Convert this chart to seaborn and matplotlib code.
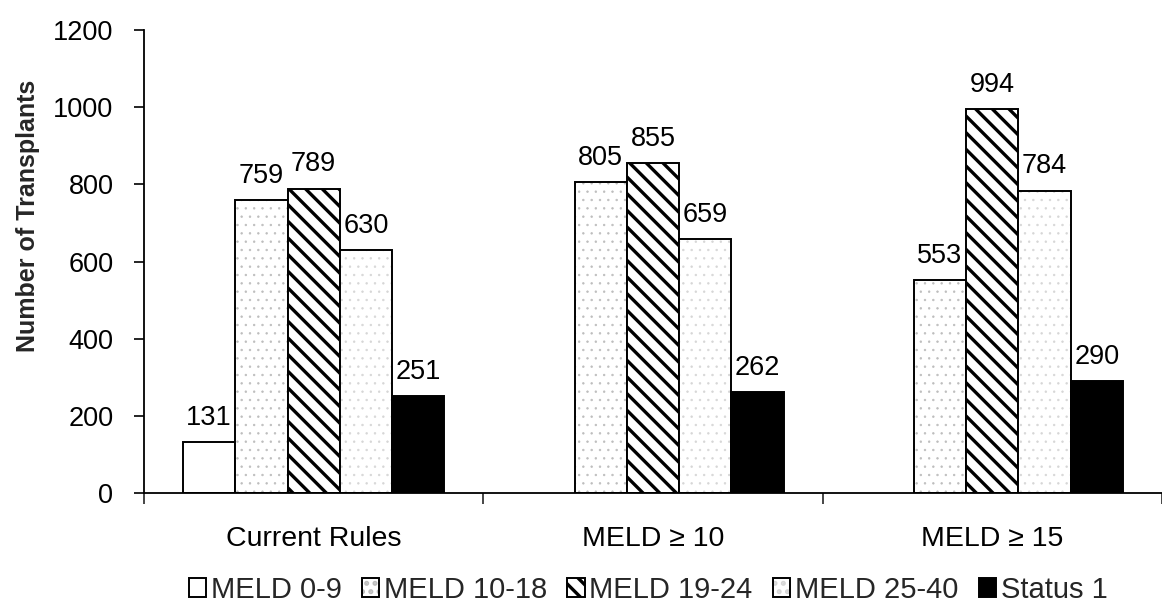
import numpy as np
import pandas as pd
import matplotlib
matplotlib.use("Agg")
import matplotlib.pyplot as plt
import seaborn as sns

# Simulated allocation rules and the transplant counts per MELD category
rules = ["Current Rules", "MELD \u2265 10", "MELD \u2265 15"]
meld_groups = ["MELD 0-9", "MELD 10-18", "MELD 19-24", "MELD 25-40", "Status 1"]
meld_0_9 = [131, None, None]
meld_10_18 = [759, 805, 553]
meld_19_24 = [789, 855, 994]
meld_25_40 = [630, 659, 784]
status_1 = [251, 262, 290]

series = [meld_0_9, meld_10_18, meld_19_24, meld_25_40, status_1]
rows = []
for grp, vals in zip(meld_groups, series):
    for rule, v in zip(rules, vals):
        if v is not None:
            rows.append({"rule": rule, "group": grp, "count": v})
df = pd.DataFrame(rows)

sns.set_theme(style="white")
plt.rcParams["font.family"] = ["Liberation Sans", "DejaVu Sans"]
plt.rcParams["hatch.linewidth"] = 2.4

fig = plt.figure(figsize=(11.62, 6.15), dpi=100)
ax = fig.add_axes([144 / 1162, 1 - 493 / 615, 1018 / 1162, 463 / 615])

palette = {g: "white" for g in meld_groups}
palette["Status 1"] = "black"
sns.barplot(data=df, x="rule", y="count", hue="group", order=rules,
            hue_order=meld_groups, palette=palette, width=0.77,
            edgecolor="black", linewidth=1.4, saturation=1,
            legend=False, ax=ax)

# Fill patterns per MELD category
styles = {
    "MELD 0-9": dict(hatch=None, hcolor=None),
    "MELD 10-18": dict(hatch="..", hcolor=(0.74, 0.74, 0.74, 1)),
    "MELD 19-24": dict(hatch="\\\\", hcolor=(0, 0, 0, 1)),
    "MELD 25-40": dict(hatch="..", hcolor=(0.84, 0.84, 0.84, 1)),
    "Status 1": dict(hatch=None, hcolor=None),
}
handles = []
for grp, cont in zip(meld_groups, ax.containers):
    st = styles[grp]
    for p in cont.patches:
        if st["hatch"]:
            p.set_hatch(st["hatch"])
            p._hatch_color = st["hcolor"]
            if st["hatch"].startswith(".") and hasattr(p, "set_hatch_linewidth"):
                p.set_hatch_linewidth(0.5)
    ax.bar_label(cont, fmt="%d", padding=8, fontsize=19.5, color="black")
    handles.append(cont.patches[0])

ax.set_ylim(0, 1200)
ax.set_yticks(np.arange(0, 1201, 200))
ax.set_xlim(-0.5, -0.5 + 1018 / 342)
ax.set_xlabel("")
ax.set_ylabel("Number of Transplants", fontsize=18, fontweight="bold")
ax.yaxis.set_label_coords(-0.102, 0.598)

for side in ("top", "right"):
    ax.spines[side].set_visible(False)
for side in ("left", "bottom"):
    ax.spines[side].set_color("black")
    ax.spines[side].set_linewidth(1.3)

ax.tick_params(axis="y", which="major", direction="out", length=7, width=1.2,
               labelsize=19.5, colors="black", left=True, pad=15)
ax.tick_params(axis="x", which="major", length=0, labelsize=20.5,
               colors="black", pad=24)
ax.set_xticks([-0.5, 0.5, 1.5, 2.5], minor=True)
ax.tick_params(axis="x", which="minor", direction="out", length=8,
               width=1.2, bottom=True)

leg = fig.legend(handles=handles, labels=meld_groups, loc="center",
                 bbox_to_anchor=(648 / 1162, 1 - 590 / 615), ncol=5,
                 frameon=False, fontsize=21, handlelength=0.6,
                 handleheight=0.6, handletextpad=0.15, columnspacing=0.7,
                 borderpad=0)

fig.savefig("out.png", dpi=100)
